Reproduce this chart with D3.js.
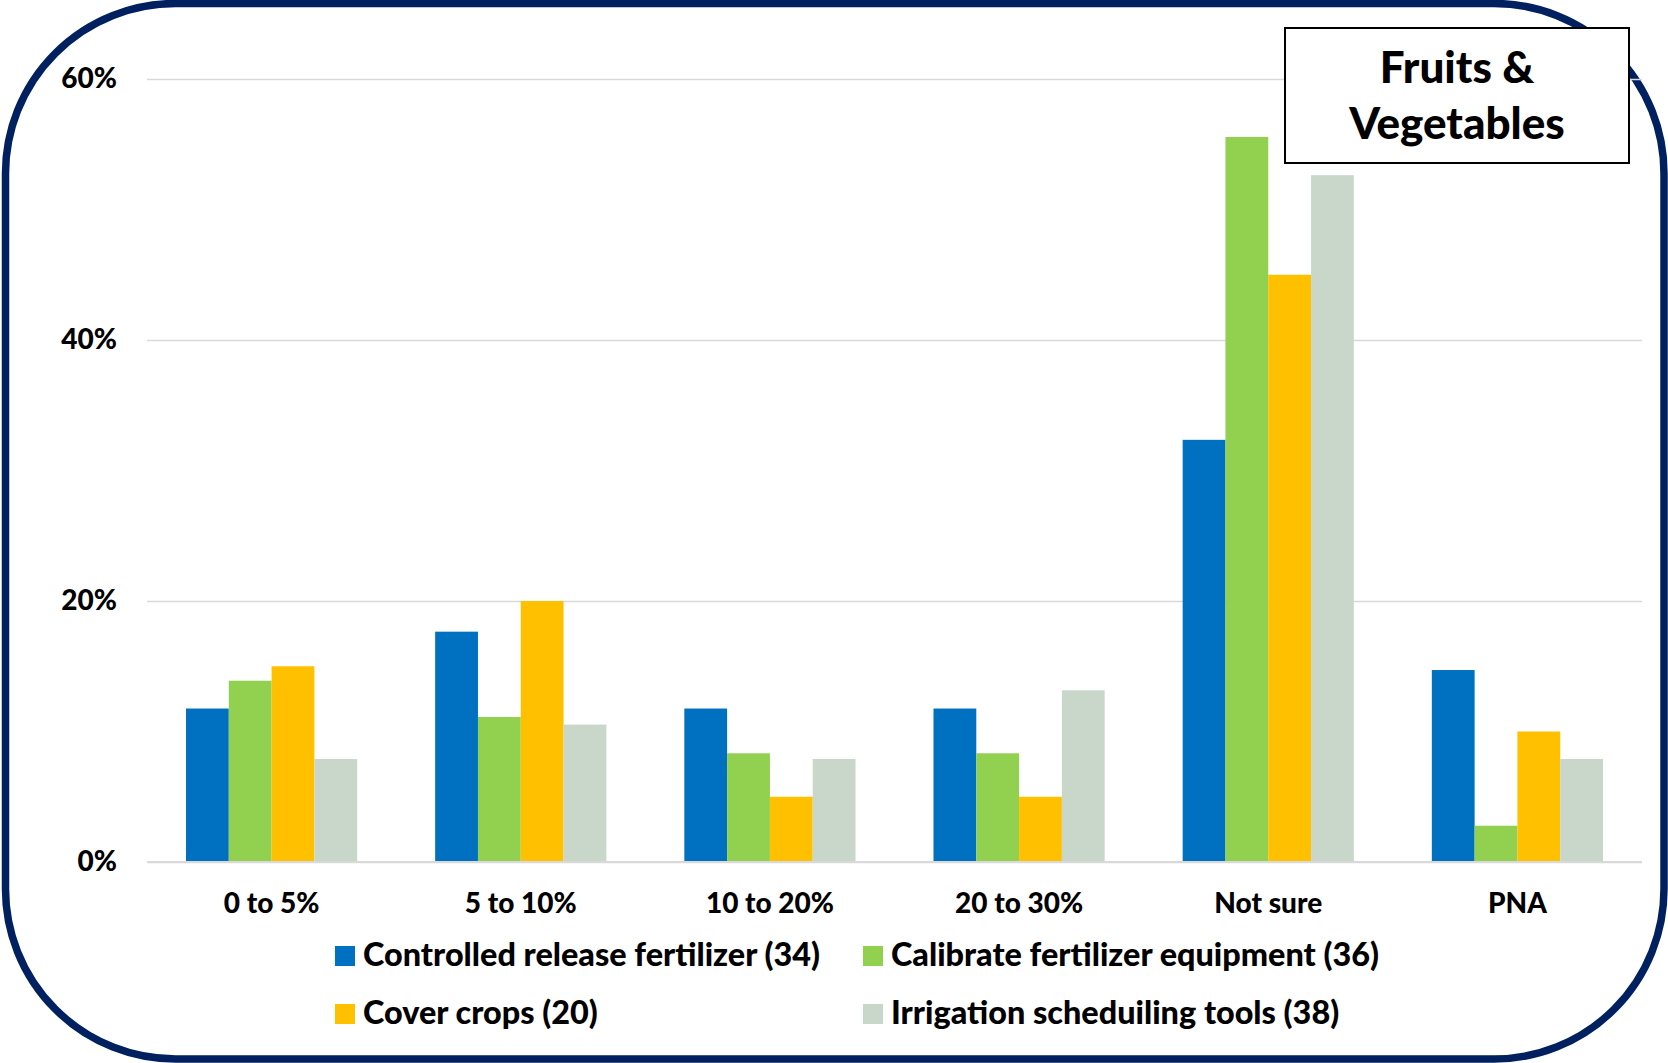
<!DOCTYPE html>
<html>
<head>
<meta charset="utf-8">
<script src="https://cdn.jsdelivr.net/npm/d3@7"></script>
<style>
  html, body { margin: 0; padding: 0; background: #ffffff; }
  svg { display: block; font-family: Lato, "Open Sans", sans-serif; font-weight: 900; }
</style>
</head>
<body>
<svg id="chart" width="1668" height="1063"></svg>
<script>
// Expected savings categories
const categories = ["0 to 5%", "5 to 10%", "10 to 20%", "20 to 30%", "Not sure", "PNA"];

// Practices (respondent counts in the labels)
const seriesNames = [
  "Controlled release fertilizer (34)",
  "Calibrate fertilizer equipment (36)",
  "Cover crops (20)",
  "Irrigation scheduiling tools (38)"
];

// Share of respondents per category, one array per practice
const controlledRelease = [0.1176, 0.1765, 0.1176, 0.1176, 0.3235, 0.1471];
const calibrateEquipment = [0.1389, 0.1111, 0.0833, 0.0833, 0.5556, 0.0278];
const coverCrops = [0.15, 0.20, 0.05, 0.05, 0.45, 0.10];
const irrigationTools = [0.0789, 0.1053, 0.0789, 0.1316, 0.5263, 0.0789];

const yTicks = [0, 0.2, 0.4, 0.6];
const titleLines = ["Fruits &", "Vegetables"];

const seriesValues = [controlledRelease, calibrateEquipment, coverCrops, irrigationTools];
const colors = ["#0070C0", "#92D050", "#FFC000", "#C9D7CA"];

const svg = d3.select("#chart");
const W = 1668, H = 1063;

// Rounded frame
svg.append("rect")
  .attr("x", 5.5).attr("y", 3.5)
  .attr("width", W - 9.5).attr("height", H - 7.5)
  .attr("rx", 170).attr("ry", 170)
  .attr("fill", "#ffffff")
  .attr("stroke", "#002060")
  .attr("stroke-width", 7.5);

const plot = { left: 147, right: 1642, top: 79, bottom: 862 };

const x0 = d3.scaleBand()
  .domain(categories)
  .range([plot.left, plot.right])
  .paddingInner(0.313)
  .paddingOuter(0.1565);

const x1 = d3.scaleBand()
  .domain(d3.range(seriesNames.length))
  .range([0, x0.bandwidth()])
  .padding(0);

const y = d3.scaleLinear()
  .domain([0, 0.6])
  .range([plot.bottom, plot.top]);

// Gridlines and y tick labels
const yAxis = d3.axisLeft(y)
  .tickValues(yTicks)
  .tickFormat(d3.format(".0%"))
  .tickSize(-(plot.right - plot.left))
  .tickPadding(30);

const gy = svg.append("g")
  .attr("transform", `translate(${plot.left},0)`)
  .call(yAxis);
gy.select(".domain").remove();
gy.selectAll(".tick line")
  .attr("stroke", "#d9d9d9")
  .attr("stroke-width", 1.5);
gy.selectAll(".tick text")
  .attr("fill", "#000000")
  .style("font-size", "28px")
  .style("font-family", "Lato, 'Open Sans', sans-serif")
  .style("font-weight", 900);

// Bars
const groups = svg.append("g")
  .selectAll("g")
  .data(categories)
  .join("g")
  .attr("transform", d => `translate(${x0(d)},0)`);

groups.selectAll("rect")
  .data((c, i) => seriesValues.map((vals, s) => ({ s, v: vals[i] })))
  .join("rect")
  .attr("x", d => x1(d.s))
  .attr("y", d => y(d.v))
  .attr("width", x1.bandwidth())
  .attr("height", d => y(0) - y(d.v))
  .attr("fill", d => colors[d.s]);

// Baseline over the bars
svg.append("line")
  .attr("x1", plot.left).attr("x2", plot.right)
  .attr("y1", y(0)).attr("y2", y(0))
  .attr("stroke", "#d9d9d9").attr("stroke-width", 2);

// Category labels
const xAxis = d3.axisBottom(x0).tickSize(0).tickPadding(31);
const gx = svg.append("g")
  .attr("transform", `translate(0,${plot.bottom})`)
  .call(xAxis);
gx.select(".domain").remove();
gx.selectAll(".tick text")
  .attr("fill", "#000000")
  .style("font-size", "28px")
  .style("font-family", "Lato, 'Open Sans', sans-serif")
  .style("font-weight", 900);

// Legend, two columns by two rows
const legendCols = [335, 863];
const legendRows = [966, 1024];
const legend = svg.append("g")
  .selectAll("g")
  .data(seriesNames)
  .join("g")
  .attr("transform", (d, i) => `translate(${legendCols[i % 2]},${legendRows[Math.floor(i / 2)]})`);

legend.append("rect")
  .attr("x", 0).attr("y", -20)
  .attr("width", 20).attr("height", 20)
  .attr("fill", (d, i) => colors[i]);

legend.append("text")
  .attr("x", 28).attr("y", 0)
  .attr("fill", "#000000")
  .style("font-size", "32.4px")
  .text(d => d);

// Title box
const tb = { x: 1285, y: 28, w: 344, h: 135 };
svg.append("rect")
  .attr("x", tb.x).attr("y", tb.y)
  .attr("width", tb.w).attr("height", tb.h)
  .attr("fill", "#ffffff")
  .attr("stroke", "#000000")
  .attr("stroke-width", 2);

svg.append("text")
  .attr("text-anchor", "middle")
  .attr("fill", "#000000")
  .style("font-size", "44px")
  .selectAll("tspan")
  .data(titleLines)
  .join("tspan")
  .attr("x", tb.x + tb.w / 2)
  .attr("y", (d, i) => 83 + i * 56)
  .text(d => d);
</script>
</body>
</html>
